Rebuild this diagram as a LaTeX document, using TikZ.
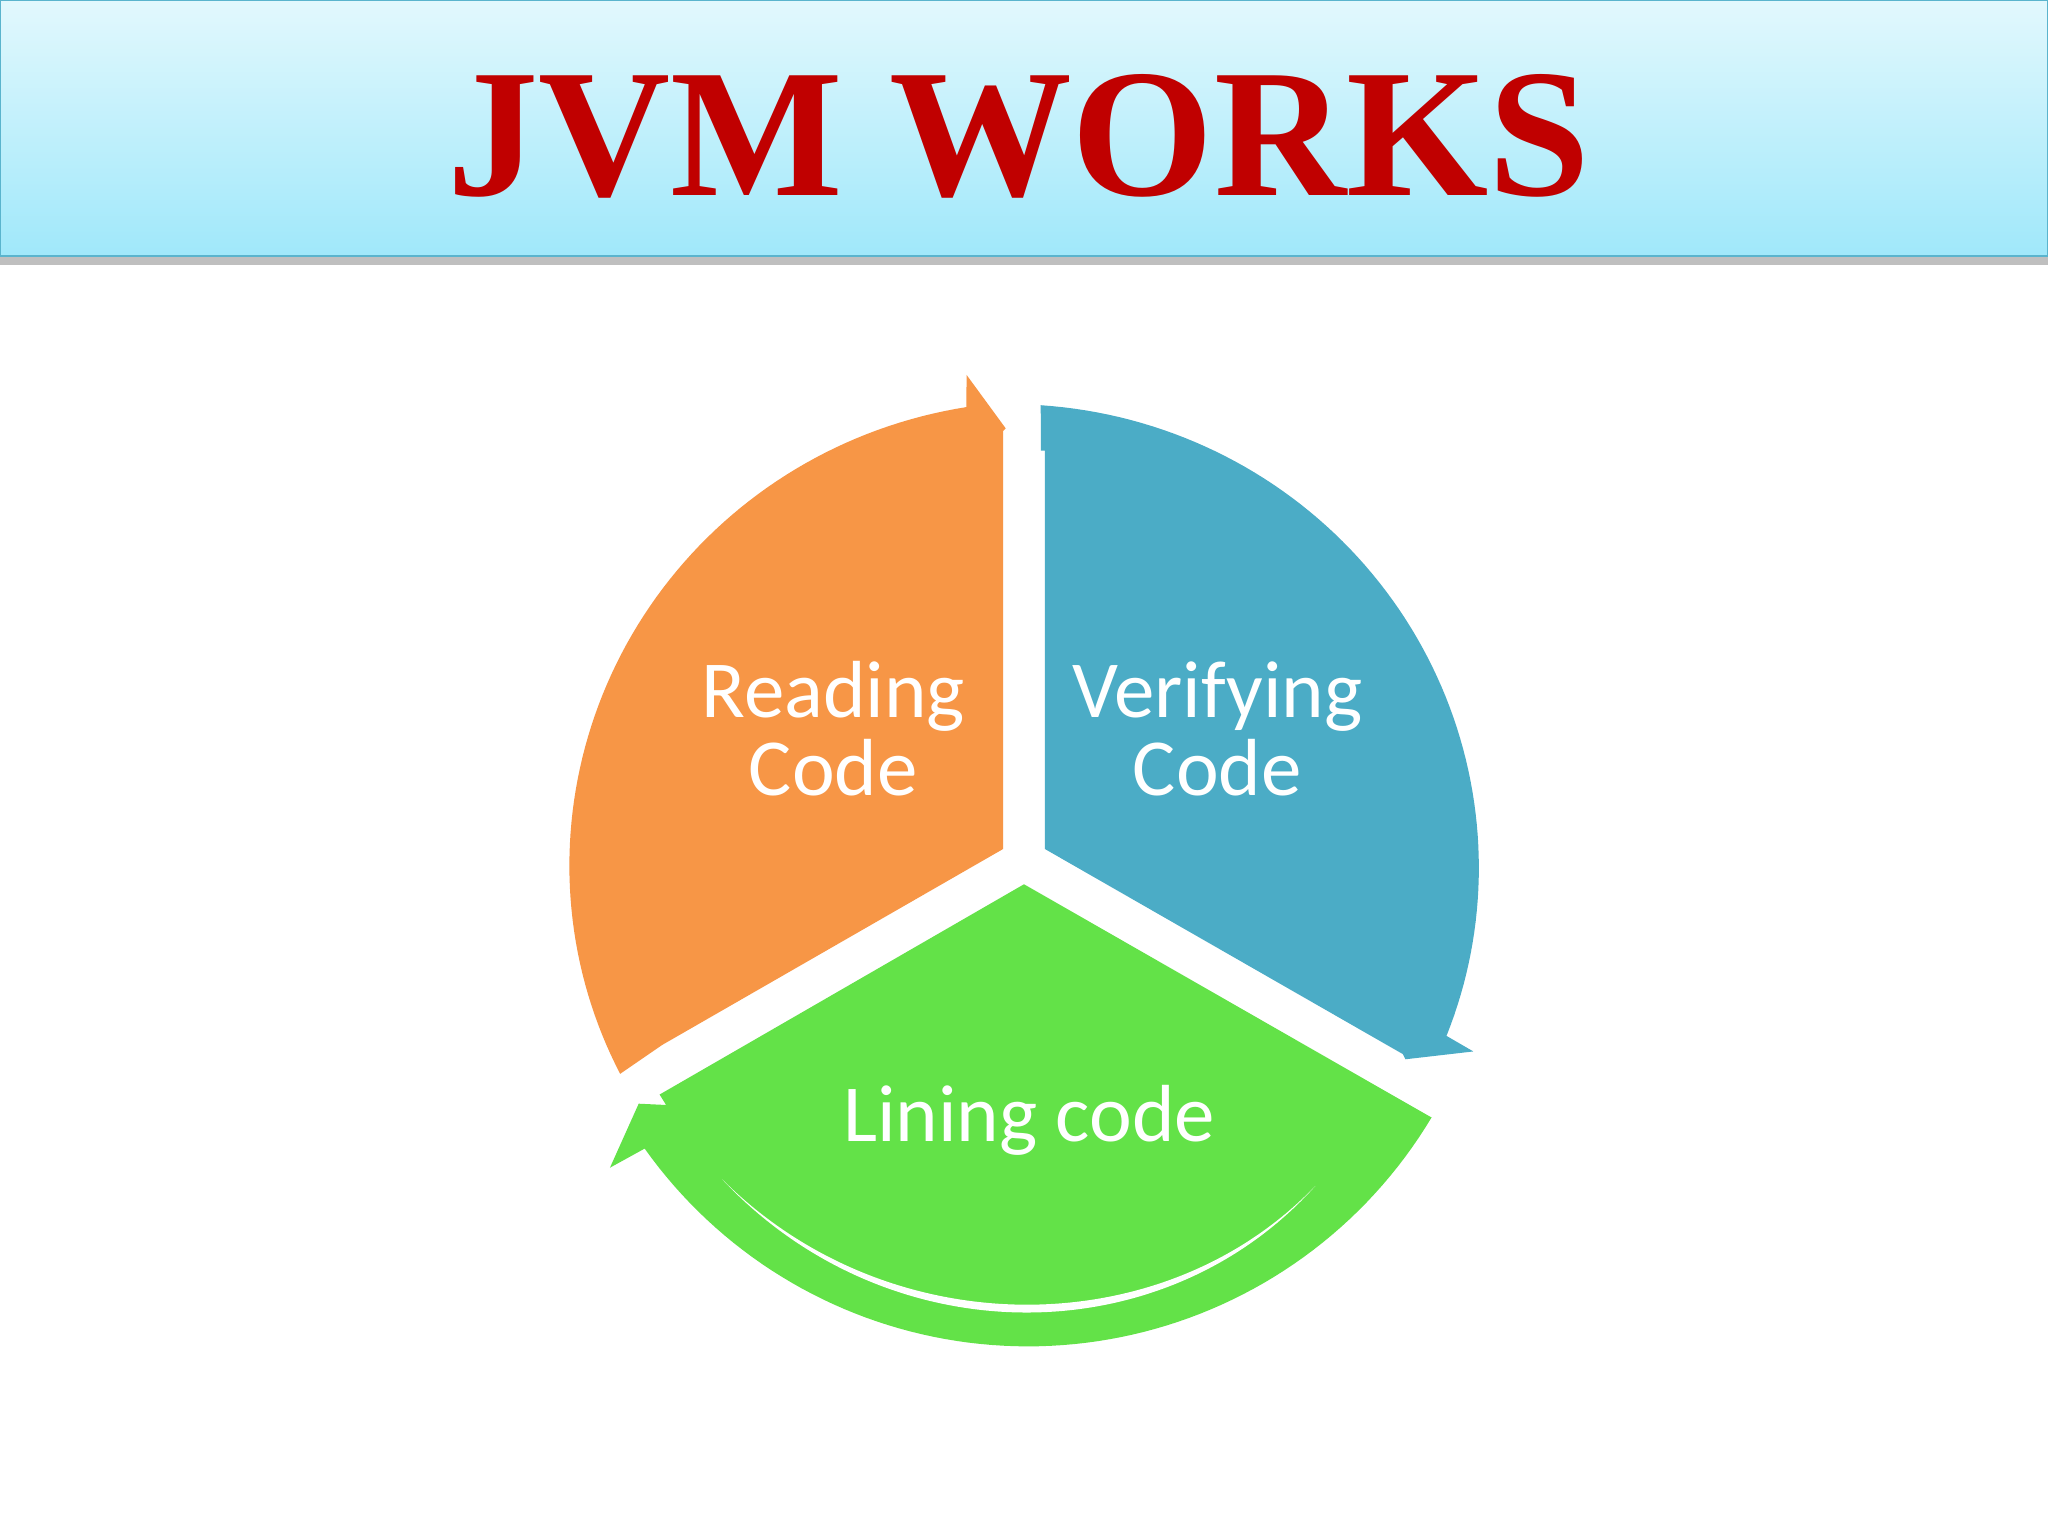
\documentclass[tikz,border=0pt]{standalone}
\usepackage{fontspec}
\setmainfont{Liberation Serif}
\newfontfamily\carl{Carlito}
\definecolor{org}{RGB}{247,150,70}
\definecolor{blu}{RGB}{75,172,198}
\definecolor{grn}{RGB}{99,226,72}
\definecolor{ttl}{RGB}{192,0,0}
\definecolor{bartop}{RGB}{226,248,253}
\definecolor{barbot}{RGB}{160,232,250}
\definecolor{barline}{RGB}{90,180,205}
\tikzset{lbl/.style={text=white,font=\carl\fontsize{62}{66}\selectfont,align=center}}
\begin{document}
\begin{tikzpicture}[x=1pt,y=-1pt]
\useasboundingbox (0,0) rectangle (1568,1176);
\fill[white] (0,0) rectangle (1568,1176);
% title bar
\fill[gray!50] (0,196) rectangle (1568,203);
\shade[top color=bartop,bottom color=barbot,draw=barline,line width=1.2pt] (0,0) rectangle (1568,196);
\node[font=\bfseries\fontsize{140}{140}\selectfont,text=ttl,anchor=base] (title) at (780,150) {JVM WORKS};
% orange
\fill[org] (768,330) -- (768,650) -- (507,800) -- (475,822)
  -- plot[domain=205.3:96.9,samples=80] ({784+(342+25*(205.3-\x)/108.4)*cos(\x)},{676-(342+25*(205.3-\x)/108.4)*sin(\x)})
  -- (740,287) -- (770,328) -- cycle;
% blue
\fill[blu] (800,345) -- (797,345)
  -- plot[domain=88:-19.9,samples=80] ({784+(366-22*(88-\x)/107.9)*cos(\x)},{676-(366-22*(88-\x)/107.9)*sin(\x)})
  -- (1128,805) -- (1076,811) -- (1074,807) -- (800,650) -- cycle;
% green
\fill[grn] (784,677) -- (1060,835) -- (1095,855)
  -- plot[domain=-29.9:-145,samples=80] ({784+(360+6*sin(\x+29.9))*cos(\x)},{676-(360+6*sin(\x+29.9))*sin(\x)})
  -- (467,894) -- (489,845) -- (510,846) -- (505,838) -- cycle;
\fill[white] (553,903) .. controls (680,1030) and (890,1030) .. (1007,908)
  .. controls (890,1038) and (680,1038) .. (553,903) -- cycle;
\node[lbl] (read) at (638,558) {Reading\\[-6pt]Code};
\node[lbl] (verif) at (932,558) {Verifying\\[-6pt]Code};
\node[lbl] (lin) at (788,858) {Lining code};
\end{tikzpicture}
\end{document}
